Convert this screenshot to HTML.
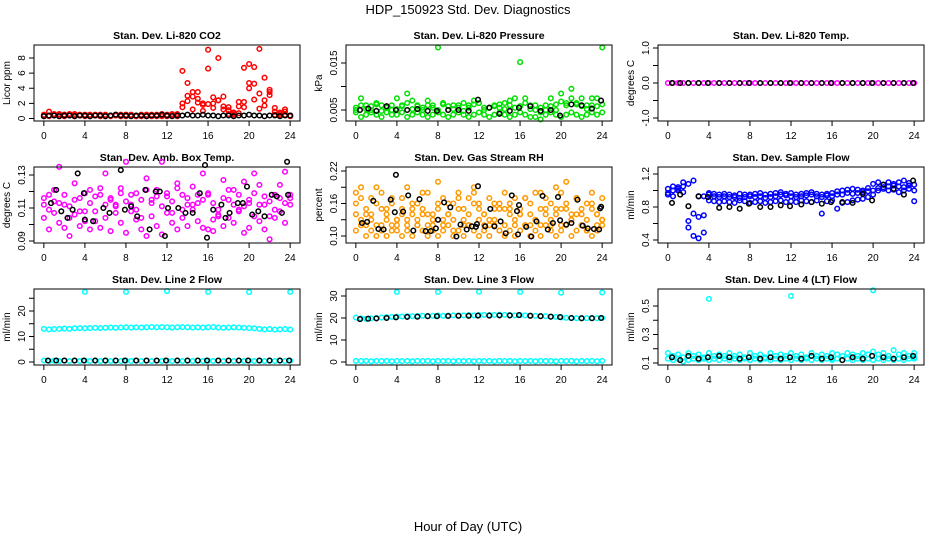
<!DOCTYPE html>
<html><head><meta charset="utf-8">
<style>
html,body{margin:0;padding:0;background:#fff;}
svg{display:block;font-family:"Liberation Sans",Arial,sans-serif;}
.tk{font-size:10px;fill:#000;}
.pt{font-size:10.5px;font-weight:bold;fill:#000;}
</style></head>
<body>
<svg id="chart" width="936" height="540" viewBox="0 0 936 540">
<text x="468" y="14" text-anchor="middle" font-size="13">HDP_150923  Std. Dev. Diagnostics</text>
<text x="468" y="531" text-anchor="middle" font-size="13">Hour of Day (UTC)</text>
</svg>
<script>
const H49=[0,0.5,1,1.5,2,2.5,3,3.5,4,4.5,5,5.5,6,6.5,7,7.5,8,8.5,9,9.5,10,10.5,11,11.5,12,12.5,13,13.5,14,14.5,15,15.5,16,16.5,17,17.5,18,18.5,19,19.5,20,20.5,21,21.5,22,22.5,23,23.5,24];
const H25=[0.4,1.2,2,3,3.9,5,6,7,7.9,9,10,11,11.9,13,14,15,15.9,17,18,19,19.9,21,22,23,23.9];
const OUTH=[4,8,12,16,20,24];

const co2Red1=[0.3,0.9,0.5,0.6,0.5,0.6,0.4,0.5,0.4,0.3,0.5,0.4,0.3,0.4,0.5,0.3,0.4,0.5,0.3,0.4,0.3,0.5,0.4,0.3,0.5,0.4,0.3,1.5,2.3,3.5,2.6,1.8,6.6,2.0,2.4,1.6,1.1,0.8,0.7,2.2,4.0,2.5,3.3,5.4,3.5,1.4,0.6,0.9,0.4];
const co2Red2=[0.4,0.4,0.6,0.5,0.3,0.5,0.6,0.4,0.3,0.5,0.4,0.3,0.5,0.4,0.4,0.3,0.5,0.4,0.4,0.3,0.5,0.4,0.3,0.6,0.4,0.5,0.6,6.3,4.7,2.9,2.1,2.0,9.1,2.8,8.0,2.9,1.5,0.7,2.2,6.7,7.2,6.8,9.2,2.4,3.8,0.9,0.8,1.2,0.3];
const co2Red3=[0.5,0.3,0.4,0.3,0.5,0.4,0.3,0.4,0.5,0.3,0.4,0.5,0.4,0.3,0.4,0.5,0.3,0.4,0.3,0.5,0.4,0.3,0.5,0.4,0.3,0.6,0.5,2.0,3.0,1.2,3.5,1.0,1.9,1.4,2.4,1.2,0.6,0.5,1.6,1.5,4.7,4.6,1.3,1.7,3.1,0.5,0.4,0.5,0.4];
const co2Black=[0.3,0.4,0.4,0.3,0.4,0.4,0.3,0.4,0.4,0.3,0.4,0.4,0.3,0.4,0.5,0.4,0.4,0.3,0.4,0.4,0.3,0.4,0.4,0.5,0.4,0.3,0.4,0.4,0.5,0.4,0.4,0.5,0.4,0.4,0.3,0.4,0.4,0.3,0.4,0.4,0.5,0.4,0.4,0.3,0.4,0.4,0.3,0.4,0.4];

const prGreen1=[0.005,0.0075,0.006,0.005,0.0065,0.006,0.0055,0.005,0.0075,0.006,0.0085,0.007,0.006,0.0055,0.007,0.006,0.0183,0.0065,0.005,0.006,0.0055,0.0065,0.006,0.007,0.0065,0.0055,0.0055,0.006,0.0055,0.0065,0.007,0.0075,0.0152,0.0075,0.006,0.005,0.0045,0.006,0.0075,0.005,0.0085,0.0065,0.0095,0.0065,0.0075,0.006,0.0075,0.0075,0.0183];
const prGreen2=[0.0045,0.0035,0.004,0.0045,0.004,0.0035,0.0045,0.004,0.004,0.0045,0.0035,0.004,0.0045,0.004,0.0035,0.004,0.0045,0.004,0.0035,0.004,0.0045,0.004,0.0035,0.004,0.0045,0.004,0.0035,0.004,0.0045,0.004,0.0035,0.004,0.0045,0.004,0.0035,0.0035,0.003,0.004,0.0045,0.004,0.0035,0.004,0.0045,0.004,0.0035,0.004,0.0045,0.004,0.0045];
const prGreen3=[0.0055,0.006,0.0052,0.0058,0.0062,0.0048,0.0055,0.006,0.0052,0.0058,0.0065,0.0052,0.0058,0.005,0.006,0.0055,0.005,0.0062,0.0058,0.0052,0.006,0.0048,0.0055,0.0062,0.0065,0.005,0.0055,0.0058,0.0062,0.0052,0.006,0.0055,0.0058,0.0065,0.0052,0.006,0.0055,0.005,0.0058,0.0062,0.0068,0.006,0.0075,0.0062,0.0058,0.0052,0.006,0.0058,0.0062];
const prBlack=[0.005,0.0053,0.0048,0.0058,0.005,0.005,0.0052,0.0048,0.0048,0.005,0.005,0.0048,0.0072,0.0055,0.0042,0.0048,0.0055,0.0058,0.0048,0.005,0.0038,0.0062,0.006,0.0053,0.007];

const tmpMag=[0,0,0,0,0,0,0,0,0,0,0,0,0,0,0,0,0,0,0,0,0,0,0,0,0,0,0,0,0,0,0,0,0,0,0,0,0,0,0,0,0,0,0,0,0,0,0,0,0];
const tmpBlack=[0,0,0,0,0,0,0,0,0,0,0,0,0,0,0,0,0,0,0,0,0,0,0,0,0];

const ambMag1=[0.112,0.118,0.107,0.135,0.112,0.104,0.125,0.116,0.108,0.121,0.102,0.118,0.131,0.115,0.107,0.122,0.138,0.112,0.119,0.104,0.128,0.115,0.121,0.138,0.117,0.107,0.125,0.118,0.112,0.123,0.113,0.131,0.118,0.096,0.105,0.127,0.115,0.121,0.109,0.126,0.113,0.131,0.124,0.112,0.105,0.118,0.124,0.132,0.116];
const ambMag2=[0.104,0.097,0.114,0.101,0.098,0.093,0.106,0.099,0.102,0.097,0.108,0.098,0.104,0.096,0.112,0.101,0.095,0.108,0.103,0.097,0.093,0.105,0.099,0.094,0.107,0.101,0.097,0.104,0.099,0.109,0.102,0.098,0.097,0.103,0.106,0.099,0.104,0.101,0.108,0.095,0.098,0.105,0.102,0.097,0.091,0.104,0.108,0.101,0.112];
const ambMag3=[0.116,0.109,0.121,0.113,0.118,0.111,0.115,0.108,0.119,0.113,0.117,0.122,0.112,0.116,0.111,0.119,0.114,0.118,0.109,0.115,0.121,0.113,0.117,0.111,0.119,0.114,0.122,0.109,0.116,0.112,0.118,0.115,0.119,0.113,0.109,0.116,0.121,0.112,0.118,0.111,0.115,0.119,0.112,0.117,0.114,0.109,0.116,0.113,0.118];
const ambBlackH=[0.7,1.2,1.7,2.3,2.8,3.3,3.9,4.0,4.8,5.8,6.4,7.5,7.9,8.5,9.1,9.9,10.3,10.9,11.3,11.8,12.1,13.1,13.8,14.5,15.2,15.7,15.9,16.5,17.3,17.7,18.1,18.9,19.4,19.8,20.3,20.9,21.5,22.2,22.7,23.2,23.7,23.8];
const ambBlackV=[0.113,0.121,0.108,0.104,0.109,0.131,0.119,0.103,0.102,0.110,0.107,0.133,0.109,0.111,0.105,0.121,0.097,0.120,0.120,0.093,0.110,0.110,0.107,0.107,0.119,0.136,0.092,0.109,0.112,0.104,0.107,0.113,0.113,0.123,0.106,0.108,0.105,0.118,0.117,0.107,0.138,0.118];

const rhOr1=[0.18,0.17,0.12,0.14,0.19,0.12,0.13,0.16,0.11,0.15,0.13,0.16,0.12,0.18,0.14,0.12,0.2,0.13,0.16,0.11,0.17,0.13,0.12,0.18,0.15,0.12,0.13,0.16,0.11,0.15,0.16,0.12,0.14,0.17,0.12,0.13,0.18,0.14,0.12,0.19,0.15,0.2,0.13,0.17,0.14,0.11,0.16,0.12,0.13];
const rhOr2=[0.11,0.12,0.1,0.11,0.1,0.11,0.1,0.11,0.12,0.1,0.11,0.1,0.12,0.11,0.1,0.11,0.1,0.11,0.12,0.1,0.11,0.1,0.12,0.11,0.1,0.11,0.1,0.12,0.11,0.1,0.11,0.1,0.11,0.12,0.1,0.11,0.1,0.12,0.11,0.1,0.11,0.12,0.1,0.11,0.12,0.11,0.1,0.11,0.12];
const rhOr3=[0.14,0.13,0.15,0.13,0.12,0.15,0.14,0.12,0.13,0.14,0.12,0.15,0.13,0.14,0.12,0.13,0.15,0.12,0.14,0.13,0.15,0.12,0.14,0.16,0.13,0.14,0.12,0.13,0.15,0.12,0.14,0.13,0.15,0.12,0.14,0.13,0.12,0.15,0.13,0.14,0.12,0.15,0.13,0.14,0.12,0.13,0.15,0.14,0.13];
const rhOr4=[0.16,0.19,0.14,0.17,0.16,0.18,0.15,0.17,0.13,0.17,0.19,0.14,0.16,0.15,0.18,0.14,0.16,0.17,0.14,0.16,0.18,0.15,0.17,0.19,0.16,0.14,0.17,0.15,0.16,0.18,0.15,0.17,0.14,0.17,0.16,0.18,0.15,0.17,0.16,0.15,0.18,0.16,0.14,0.17,0.15,0.16,0.18,0.14,0.17];
const rhBlackH=[0.6,1.1,1.7,2.2,2.7,3.4,3.8,3.9,4.6,5.1,5.6,6.2,6.8,7.3,7.8,8.0,8.6,9.2,9.8,10.2,10.8,11.3,11.7,11.8,11.9,12.6,13.1,13.5,14.1,14.6,15.2,15.7,15.8,15.9,16.6,17.1,17.6,18.2,18.7,19.2,19.7,19.9,20.5,21.0,21.6,22.1,22.6,23.2,23.7,23.8,23.9];
const rhBlackV=[0.124,0.126,0.165,0.113,0.112,0.167,0.144,0.213,0.145,0.175,0.110,0.168,0.109,0.109,0.114,0.130,0.162,0.153,0.099,0.121,0.112,0.118,0.117,0.122,0.192,0.118,0.150,0.118,0.127,0.105,0.175,0.146,0.103,0.157,0.117,0.099,0.127,0.174,0.112,0.124,0.172,0.129,0.121,0.124,0.167,0.119,0.114,0.113,0.112,0.151,0.154];

const sfBlue1=[0.97,1.0,1.02,1.05,1.08,1.12,0.93,0.93,0.95,0.93,0.92,0.93,0.92,0.92,0.91,0.92,0.93,0.92,0.93,0.91,0.92,0.93,0.95,0.94,0.93,0.92,0.93,0.94,0.95,0.93,0.92,0.94,0.93,0.95,0.95,0.97,0.96,0.97,0.98,0.99,1.0,1.03,1.04,1.05,1.06,1.05,1.04,1.06,0.87];
const sfBlue2=[0.95,0.93,1.0,0.98,0.55,0.45,0.42,0.49,0.88,0.87,0.86,0.87,0.86,0.85,0.88,0.87,0.85,0.86,0.87,0.85,0.86,0.87,0.88,0.86,0.87,0.86,0.88,0.87,0.86,0.88,0.72,0.87,0.88,0.78,0.85,0.86,0.88,0.89,0.9,0.92,0.95,1.0,1.02,1.0,1.01,0.98,1.0,1.02,1.0];
const sfBlue3=[1.02,1.05,1.04,1.1,0.63,0.72,0.68,0.7,0.97,0.96,0.95,0.96,0.95,0.94,0.96,0.95,0.95,0.96,0.97,0.95,0.96,0.97,0.98,0.96,0.97,0.95,0.96,0.97,0.98,0.96,0.95,0.96,0.97,0.99,1.0,1.01,1.02,1.01,1.0,1.03,1.08,1.1,1.07,1.1,1.08,1.1,1.12,1.09,1.07];
const sfBlack=[0.85,0.95,0.81,0.93,0.92,0.79,0.8,0.78,0.84,0.8,0.8,0.82,0.81,0.83,0.86,0.84,0.86,0.86,0.85,0.96,0.88,1.07,1.02,0.95,1.12];

const l2Cyan=[13.0,12.8,12.9,13.0,13.1,13.0,13.2,13.3,13.2,13.3,13.4,13.3,13.4,13.5,13.4,13.5,13.6,13.5,13.6,13.5,13.6,13.7,13.6,13.7,13.6,13.5,13.6,13.7,13.6,13.5,13.6,13.5,13.6,13.7,13.5,13.4,13.5,13.6,13.5,13.4,13.3,13.2,13.0,12.8,12.9,12.7,12.8,12.9,12.7];
const l2CyanLow=[0.6,0.4,0.5,0.4,0.5,0.4,0.5,0.4,0.5,0.4,0.5,0.4,0.5,0.4,0.5,0.4,0.5,0.4,0.5,0.4,0.5,0.4,0.5,0.4,0.5,0.4,0.5,0.4,0.5,0.4,0.5,0.4,0.5,0.4,0.5,0.4,0.5,0.4,0.5,0.4,0.5,0.4,0.5,0.4,0.5,0.4,0.5,0.4,0.5];
const l2Out=[27.5,27.5,27.8,27.5,27.4,27.5];
const l2Black=[0.6,0.6,0.6,0.6,0.6,0.6,0.6,0.6,0.6,0.6,0.6,0.6,0.6,0.6,0.6,0.6,0.6,0.6,0.6,0.6,0.6,0.6,0.6,0.6,0.6];

const l3CyanHi=[20.2,19.8,19.6,19.8,20.0,20.2,20.4,20.5,20.6,20.7,20.8,20.8,20.9,21.0,20.9,21.0,21.1,21.0,21.1,21.2,21.1,21.2,21.3,21.2,21.3,21.4,21.3,21.4,21.5,21.4,21.3,21.2,21.3,21.2,21.1,21.0,20.9,20.8,20.6,20.5,20.3,20.1,20.0,19.9,19.8,19.9,20.0,19.9,20.0];
const l3CyanLow=[0.5,0.4,0.5,0.3,0.5,0.4,0.5,0.3,0.5,0.4,0.5,0.3,0.5,0.4,0.5,0.3,0.5,0.4,0.5,0.3,0.5,0.4,0.5,0.3,0.5,0.4,0.5,0.3,0.5,0.4,0.5,0.3,0.5,0.4,0.5,0.3,0.5,0.4,0.5,0.3,0.5,0.4,0.5,0.3,0.5,0.4,0.5,0.3,0.5];
const l3Out=[31.8,31.8,32.0,31.8,31.5,31.6];
const l3Black=[19.5,19.7,19.8,20.0,20.3,20.5,20.6,20.8,20.8,20.9,21.0,21.0,21.1,21.1,21.2,21.2,21.3,21.0,20.8,20.6,20.4,20.0,19.9,19.9,20.0];

const l4Cyan1=[0.17,0.15,0.16,0.14,0.17,0.15,0.16,0.14,0.17,0.15,0.16,0.15,0.17,0.15,0.16,0.14,0.17,0.15,0.16,0.14,0.17,0.15,0.16,0.15,0.17,0.15,0.16,0.14,0.17,0.15,0.16,0.15,0.17,0.16,0.15,0.17,0.16,0.15,0.17,0.16,0.18,0.16,0.17,0.15,0.19,0.16,0.17,0.15,0.17];
const l4Cyan2=[0.13,0.12,0.13,0.11,0.12,0.13,0.12,0.13,0.12,0.13,0.12,0.13,0.12,0.13,0.12,0.13,0.12,0.13,0.12,0.13,0.12,0.13,0.12,0.13,0.12,0.13,0.12,0.13,0.12,0.13,0.12,0.13,0.12,0.13,0.12,0.13,0.12,0.13,0.12,0.13,0.12,0.13,0.12,0.13,0.12,0.13,0.12,0.13,0.14];
const l4Out=[0.55,0.12,0.57,0.13,0.61,0.13];
const l4Black=[0.14,0.12,0.15,0.13,0.14,0.15,0.14,0.13,0.14,0.13,0.14,0.13,0.14,0.13,0.15,0.13,0.14,0.12,0.14,0.13,0.15,0.14,0.13,0.14,0.15];

const panels=[
 {key:'co2',col:0,row:0,title:'Stan. Dev. Li-820 CO2',ylab:'Licor ppm',ymap:[0,118.5,8,58],ticks:[0,2,4,6,8],labels:['0','2','4','6','8'],
  series:[{h:H49,v:co2Red1,c:'#ff0000'},{h:H49,v:co2Red2,c:'#ff0000'},{h:H49,v:co2Red3,c:'#ff0000'},{h:H49,v:co2Black,c:'#000'}]},
 {key:'pressure',col:1,row:0,title:'Stan. Dev. Li-820 Pressure',ylab:'kPa',ymap:[0.005,110,0.015,63],ticks:[0.005,0.010,0.015],labels:['0.005','','0.015'],
  series:[{h:H49,v:prGreen1,c:'#00e000'},{h:H49,v:prGreen2,c:'#00e000'},{h:H49,v:prGreen3,c:'#00e000'},{h:H25,v:prBlack,c:'#000'}]},
 {key:'li820-temp',col:2,row:0,title:'Stan. Dev. Li-820 Temp.',ylab:'degrees C',ymap:[-1,118,1,48],ticks:[-1,-0.5,0,0.5,1],labels:['-1.0','','0.0','','1.0'],
  series:[{h:H49,v:tmpMag,c:'#ff00ff'},{h:H25,v:tmpBlack,c:'#000'}]},
 {key:'amb-temp',col:0,row:1,title:'Stan. Dev. Amb. Box Temp.',ylab:'degrees C',ymap:[0.09,241,0.13,175],ticks:[0.09,0.10,0.11,0.12,0.13],labels:['0.09','','0.11','','0.13'],
  series:[{h:H49,v:ambMag1,c:'#ff00ff'},{h:H49,v:ambMag2,c:'#ff00ff'},{h:H49,v:ambMag3,c:'#ff00ff'},{h:ambBlackH,v:ambBlackV,c:'#000'}]},
 {key:'rh',col:1,row:1,title:'Stan. Dev. Gas Stream RH',ylab:'percent',ymap:[0.10,236,0.22,171],ticks:[0.10,0.13,0.16,0.19,0.22],labels:['0.10','','0.16','','0.22'],
  series:[{h:H49,v:rhOr1,c:'#ff9900'},{h:H49,v:rhOr2,c:'#ff9900'},{h:H49,v:rhOr3,c:'#ff9900'},{h:H49,v:rhOr4,c:'#ff9900'},{h:rhBlackH,v:rhBlackV,c:'#000'}]},
 {key:'sample-flow',col:2,row:1,title:'Stan. Dev. Sample Flow',ylab:'ml/min',ymap:[0.4,240,1.2,174],ticks:[0.4,0.6,0.8,1.0,1.2],labels:['0.4','','0.8','','1.2'],
  series:[{h:H49,v:sfBlue1,c:'#0000ff'},{h:H49,v:sfBlue2,c:'#0000ff'},{h:H49,v:sfBlue3,c:'#0000ff'},{h:H25,v:sfBlack,c:'#000'}]},
 {key:'line2',col:0,row:2,title:'Stan. Dev. Line 2 Flow',ylab:'ml/min',ymap:[0,362,20,311],ticks:[0,5,10,15,20,25],labels:['0','','10','','20',''],
  series:[{h:H49,v:l2Cyan,c:'#00ffff'},{h:H49,v:l2CyanLow,c:'#00ffff'},{h:OUTH,v:l2Out,c:'#00ffff'},{h:H25,v:l2Black,c:'#000'}]},
 {key:'line3',col:1,row:2,title:'Stan. Dev. Line 3 Flow',ylab:'ml/min',ymap:[0,362,30,296],ticks:[0,10,20,30],labels:['0','10','20','30'],
  series:[{h:H49,v:l3CyanHi,c:'#00ffff'},{h:H49,v:l3CyanLow,c:'#00ffff'},{h:OUTH,v:l3Out,c:'#00ffff'},{h:H25,v:l3Black,c:'#000'}]},
 {key:'line4',col:2,row:2,title:'Stan. Dev. Line 4 (LT) Flow',ylab:'ml/min',ymap:[0.1,363,0.5,306],ticks:[0.1,0.2,0.3,0.4,0.5],labels:['0.1','','0.3','','0.5'],
  series:[{h:H49,v:l4Cyan1,c:'#00ffff'},{h:H49,v:l4Cyan2,c:'#00ffff'},{h:OUTH,v:l4Out,c:'#00ffff'},{h:H25,v:l4Black,c:'#000'}]}
];
const xTicks=[0,4,8,12,16,20,24];

const NS='http://www.w3.org/2000/svg';
const svg=document.getElementById('chart');
function mk(tag,attrs,parent){const e=document.createElementNS(NS,tag);for(const k in attrs)e.setAttribute(k,attrs[k]);(parent||svg).appendChild(e);return e;}

panels.forEach(p=>{
  const L=34+312*p.col, R=L+266, T=45+122*p.row, B=T+76;
  const xs=h=>L+9.85+h*246.3/24;
  const [v1,p1,v2,p2]=p.ymap;
  const ys=v=>p1+(v-v1)*(p2-p1)/(v2-v1);
  const g=mk('g',{});
  
  
  const t=mk('text',{x:(L+R)/2,y:T-6,'text-anchor':'middle',class:'pt'},g);
  t.textContent=p.title;
  
  
  const yl=mk('text',{transform:`translate(${L-24},${(T+B)/2}) rotate(-90)`,'text-anchor':'middle',class:'tk'},g);
  yl.textContent=p.ylab;
  
  
  const pg=mk('g',{fill:'none','stroke-width':1.5},g);
  
  
  p.series.forEach(s=>{
    s.v.forEach((v,i)=>{
      const c=mk('circle',{cx:xs(s.h[i]).toFixed(1),cy:ys(v).toFixed(1),r:2.3,stroke:s.c},pg);
      
      
    });
  });
  const bx=mk('rect',{x:L,y:T,width:R-L,height:B-T,fill:'none',stroke:'#000','stroke-width':1},g);
  
  
  xTicks.forEach(h=>{
    const x=xs(h);
    const ln=mk('line',{x1:x,x2:x,y1:B,y2:B+5,stroke:'#000'},g);
    
    
    const tx=mk('text',{x:x,y:B+18,'text-anchor':'middle',class:'tk'},g);
    tx.textContent=h;
    
    
  });
  p.ticks.forEach((v,i)=>{
    const y=ys(v);
    const ln=mk('line',{x1:L-5,x2:L,y1:y,y2:y,stroke:'#000'},g);
    
    
    if(p.labels[i]){
      const tx=mk('text',{transform:`translate(${L-9},${y}) rotate(-90)`,'text-anchor':'middle',class:'tk'},g);
      tx.textContent=p.labels[i];
      
      
    }
  });
});
</script>
</body></html>
